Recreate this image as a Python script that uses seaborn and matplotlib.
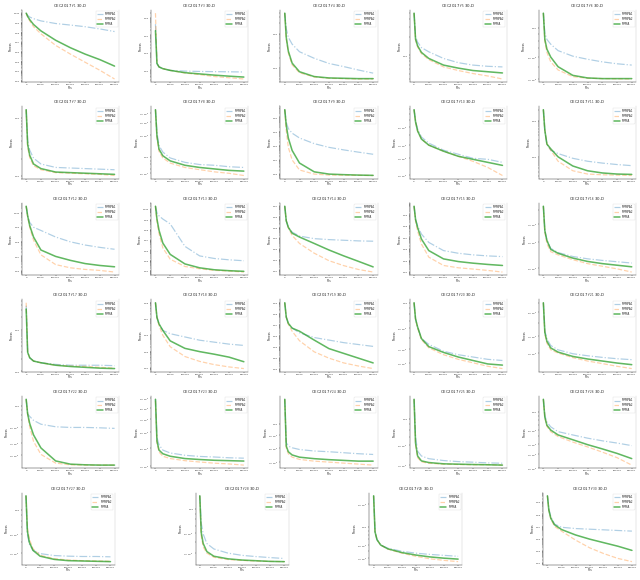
import matplotlib
matplotlib.use("Agg")
import matplotlib.pyplot as plt
import seaborn as sns
import numpy as np
import pandas as pd

# Function evaluations at which the convergence values were read
FES = [0, 5000, 12000, 25000, 50000, 100000, 150000, 200000, 250000, 300000]
SERIES = ["MPMPA1", "MPMPA2", "MPMA"]
FUNC_IDS = [1, 3, 4, 5, 6, 7, 8, 9, 10, 11, 12, 13, 14, 15, 16, 17, 18, 19, 20,
            21, 22, 23, 24, 25, 26, 27, 28, 29, 30]

# log10 of the best fitness error (A = MPMPA1, B = MPMPA2, C = MPMA)
F1_A = [10, 9.77, 9.6, 9.43, 9.2, 8.93, 8.77, 8.6, 8.37, 8.1]
F1_B = [10, 9.6, 9.2, 8.6, 7.87, 6.67, 5.77, 4.93, 4.1, 3.2]
F1_C = [10, 9.67, 9.33, 8.83, 8.17, 7.2, 6.43, 5.77, 5.2, 4.53]
F3_A = [4.64, 2.4, 2.2, 2.1, 2.0, 1.96, 1.94, 1.93, 1.92, 1.91]
F3_B = [5.27, 2.4, 2.2, 2.1, 2.0, 1.85, 1.76, 1.65, 1.58, 1.51]
F3_C = [4.27, 2.4, 2.2, 2.1, 2.0, 1.87, 1.8, 1.73, 1.67, 1.62]
F4_A = [3.6, 3.15, 2.9, 2.7, 2.48, 2.29, 2.14, 2.05, 1.95, 1.86]
F4_B = [3.6, 2.85, 2.45, 2.1, 1.87, 1.75, 1.71, 1.7, 1.69, 1.69]
F4_C = [3.6, 2.9, 2.5, 2.15, 1.9, 1.76, 1.72, 1.71, 1.7, 1.7]
F5_A = [2.7, 2.31, 2.22, 2.13, 2.06, 1.95, 1.88, 1.84, 1.82, 1.81]
F5_B = [2.7, 2.26, 2.14, 2.03, 1.93, 1.81, 1.75, 1.70, 1.66, 1.61]
F5_C = [2.7, 2.27, 2.16, 2.05, 1.95, 1.84, 1.79, 1.75, 1.73, 1.71]
F6_A = [1.117, 0.963, 0.913, 0.876, 0.826, 0.783, 0.759, 0.739, 0.724, 0.714]
F6_B = [1.117, 0.9, 0.813, 0.739, 0.676, 0.624, 0.612, 0.609, 0.607, 0.606]
F6_C = [1.117, 0.913, 0.838, 0.776, 0.701, 0.634, 0.614, 0.609, 0.609, 0.609]
F7_A = [3.15, 2.61, 2.45, 2.31, 2.21, 2.15, 2.14, 2.13, 2.12, 2.11]
F7_B = [3.15, 2.5, 2.32, 2.18, 2.11, 2.06, 2.05, 2.04, 2.03, 2.01]
F7_C = [3.15, 2.55, 2.36, 2.21, 2.13, 2.07, 2.06, 2.05, 2.04, 2.03]
F8_A = [2.65, 2.34, 2.16, 2.07, 1.99, 1.93, 1.90, 1.89, 1.87, 1.86]
F8_B = [2.65, 2.27, 2.08, 1.99, 1.92, 1.86, 1.83, 1.80, 1.78, 1.75]
F8_C = [2.65, 2.29, 2.11, 2.02, 1.95, 1.89, 1.86, 1.84, 1.82, 1.81]
F9_A = [4.55, 3.67, 3.22, 2.89, 2.55, 2.15, 1.89, 1.71, 1.55, 1.4]
F9_B = [4.55, 3.1, 1.89, 1.0, 0.29, 0.0, -0.07, -0.08, -0.09, -0.1]
F9_C = [4.55, 3.44, 2.55, 1.67, 0.78, 0.16, 0.0, -0.04, -0.07, -0.09]
F10_A = [3.95, 3.84, 3.76, 3.68, 3.62, 3.55, 3.51, 3.47, 3.46, 3.43]
F10_B = [3.95, 3.83, 3.74, 3.66, 3.60, 3.54, 3.49, 3.44, 3.38, 3.30]
F10_C = [3.95, 3.83, 3.74, 3.66, 3.60, 3.54, 3.49, 3.46, 3.43, 3.40]
F11_A = [3.3, 2.70, 2.36, 2.19, 2.10, 1.97, 1.89, 1.84, 1.80, 1.77]
F11_B = [3.3, 2.74, 2.36, 2.19, 1.89, 1.63, 1.54, 1.52, 1.51, 1.50]
F11_C = [3.3, 2.74, 2.36, 2.23, 2.01, 1.76, 1.63, 1.57, 1.54, 1.53]
F12_A = [10.44, 9.78, 9.33, 9.0, 8.78, 8.33, 8.0, 7.78, 7.62, 7.49]
F12_B = [10.44, 9.71, 9.0, 8.11, 7.11, 6.44, 6.22, 6.11, 6.04, 5.93]
F12_C = [10.44, 9.78, 9.11, 8.33, 7.44, 7.0, 6.73, 6.51, 6.38, 6.29]
F13_A = [10.3, 9.68, 9.36, 9.05, 8.58, 6.39, 5.46, 5.21, 5.08, 4.99]
F13_B = [10.3, 8.89, 7.64, 6.24, 5.14, 4.43, 4.21, 4.05, 3.99, 3.89]
F13_C = [10.3, 9.05, 7.96, 6.71, 5.61, 4.68, 4.3, 4.11, 4.02, 3.96]
F14_A = [7.0, 5.64, 5.03, 4.58, 4.21, 3.97, 3.88, 3.82, 3.76, 3.73]
F14_B = [7.0, 5.64, 4.97, 4.27, 3.52, 2.61, 1.91, 1.45, 1.09, 0.85]
F14_C = [7.0, 5.64, 5.03, 4.48, 4.12, 3.52, 2.91, 2.36, 1.85, 1.33]
F15_A = [9.71, 8.57, 8.0, 7.29, 6.57, 5.86, 5.63, 5.49, 5.4, 5.34]
F15_B = [9.71, 8.43, 7.57, 6.43, 5.29, 4.57, 4.37, 4.26, 4.14, 4.0]
F15_C = [9.71, 8.57, 7.86, 6.86, 5.86, 5.14, 4.91, 4.77, 4.66, 4.57]
F16_A = [3.725, 3.557, 3.49, 3.435, 3.406, 3.379, 3.363, 3.352, 3.343, 3.334]
F16_B = [3.725, 3.546, 3.468, 3.412, 3.39, 3.357, 3.33, 3.312, 3.294, 3.272]
F16_C = [3.725, 3.557, 3.49, 3.428, 3.401, 3.368, 3.345, 3.33, 3.319, 3.308]
F17_A = [4.58, 3.46, 3.33, 3.25, 3.21, 3.17, 3.15, 3.15, 3.15, 3.14]
F17_B = [4.65, 3.46, 3.33, 3.25, 3.21, 3.15, 3.13, 3.12, 3.10, 3.08]
F17_C = [4.5, 3.46, 3.33, 3.25, 3.21, 3.15, 3.12, 3.10, 3.08, 3.07]
F18_A = [8.0, 7.1, 6.7, 6.3, 6.1, 5.9, 5.7, 5.58, 5.46, 5.38]
F18_B = [8.0, 7.1, 6.6, 6.0, 5.3, 4.7, 4.4, 4.2, 4.06, 3.96]
F18_C = [8.0, 7.1, 6.7, 6.3, 5.66, 5.2, 5.0, 4.84, 4.66, 4.38]
F19_A = [9.0, 7.71, 7.14, 6.71, 6.29, 5.86, 5.63, 5.4, 5.23, 5.06]
F19_B = [9.0, 7.71, 7.06, 6.43, 5.57, 4.57, 4.0, 3.57, 3.29, 3.06]
F19_C = [9.0, 7.71, 7.14, 6.71, 6.43, 5.63, 4.86, 4.43, 4.0, 3.57]
F20_A = [3.0, 2.86, 2.79, 2.69, 2.64, 2.58, 2.55, 2.53, 2.51, 2.5]
F20_B = [3.0, 2.86, 2.78, 2.68, 2.61, 2.55, 2.51, 2.48, 2.45, 2.43]
F20_C = [3.0, 2.86, 2.79, 2.69, 2.62, 2.57, 2.53, 2.5, 2.47, 2.46]
F21_A = [2.85, 2.643, 2.582, 2.533, 2.501, 2.472, 2.457, 2.445, 2.435, 2.428]
F21_B = [2.85, 2.618, 2.55, 2.501, 2.477, 2.443, 2.418, 2.399, 2.379, 2.362]
F21_C = [2.85, 2.63, 2.564, 2.515, 2.484, 2.452, 2.433, 2.418, 2.403, 2.391]
F22_A = [4.068, 3.914, 3.887, 3.846, 3.805, 3.778, 3.771, 3.771, 3.767, 3.761]
F22_B = [4.068, 3.908, 3.778, 3.624, 3.487, 3.395, 3.377, 3.374, 3.374, 3.374]
F22_C = [4.068, 3.914, 3.812, 3.692, 3.555, 3.418, 3.384, 3.377, 3.374, 3.374]
F23_A = [2.95, 2.752, 2.714, 2.686, 2.671, 2.659, 2.653, 2.65, 2.646, 2.644]
F23_B = [2.941, 2.723, 2.676, 2.654, 2.642, 2.631, 2.624, 2.618, 2.614, 2.608]
F23_C = [2.95, 2.733, 2.686, 2.667, 2.654, 2.642, 2.637, 2.633, 2.631, 2.629]
F24_A = [3.1, 2.925, 2.911, 2.904, 2.897, 2.891, 2.888, 2.884, 2.88, 2.877]
F24_B = [3.1, 2.904, 2.88, 2.866, 2.857, 2.85, 2.846, 2.842, 2.838, 2.834]
F24_C = [3.1, 2.911, 2.888, 2.875, 2.866, 2.86, 2.856, 2.853, 2.85, 2.85]
F25_A = [3.167, 2.847, 2.722, 2.681, 2.658, 2.642, 2.633, 2.628, 2.622, 2.619]
F25_B = [3.167, 2.778, 2.667, 2.631, 2.619, 2.611, 2.608, 2.606, 2.606, 2.603]
F25_C = [3.167, 2.792, 2.681, 2.639, 2.625, 2.614, 2.611, 2.608, 2.606, 2.603]
F26_A = [4.162, 3.96, 3.879, 3.818, 3.758, 3.717, 3.677, 3.644, 3.616, 3.584]
F26_B = [4.162, 3.939, 3.826, 3.758, 3.697, 3.628, 3.568, 3.503, 3.434, 3.341]
F26_C = [4.162, 3.939, 3.838, 3.778, 3.717, 3.657, 3.596, 3.543, 3.487, 3.422]
F27_A = [3.134, 2.774, 2.684, 2.624, 2.594, 2.576, 2.57, 2.567, 2.567, 2.564]
F27_B = [3.134, 2.834, 2.729, 2.639, 2.579, 2.546, 2.534, 2.528, 2.525, 2.522]
F27_C = [3.134, 2.804, 2.699, 2.624, 2.57, 2.54, 2.528, 2.525, 2.522, 2.519]
F28_A = [4.114, 3.872, 3.773, 3.688, 3.639, 3.602, 3.582, 3.571, 3.562, 3.554]
F28_B = [4.114, 3.759, 3.659, 3.602, 3.565, 3.545, 3.537, 3.531, 3.528, 3.526]
F28_C = [4.114, 3.787, 3.688, 3.616, 3.574, 3.551, 3.54, 3.534, 3.528, 3.526]
F29_A = [3.401, 2.941, 2.841, 2.773, 2.733, 2.693, 2.669, 2.653, 2.641, 2.629]
F29_B = [3.401, 2.941, 2.841, 2.773, 2.721, 2.669, 2.629, 2.597, 2.577, 2.561]
F29_C = [3.401, 2.941, 2.841, 2.773, 2.725, 2.677, 2.645, 2.621, 2.605, 2.593]
F30_A = [9.526, 8.474, 7.816, 7.211, 6.947, 6.842, 6.789, 6.737, 6.684, 6.632]
F30_B = [9.526, 8.342, 7.632, 7.026, 6.632, 5.895, 5.263, 4.789, 4.395, 4.132]
F30_C = [9.526, 8.342, 7.684, 7.158, 6.763, 6.316, 5.974, 5.684, 5.395, 5.053]

COLORS = ["tab:blue", "tab:orange", "tab:green"]
STYLES = ["-.", "--", "-"]
ALPHAS = [0.35, 0.35, 0.75]
WIDTHS = [3.5, 3.5, 4.5]

sns.set_theme(style="ticks")
plt.rcParams["font.family"] = ["DejaVu Sans"]

fig = plt.figure(figsize=(25.6, 23.2), dpi=25)
common = dict(left=0.034, right=0.994, top=0.983, bottom=0.026, hspace=0.333)
gs5 = fig.add_gridspec(6, 5, wspace=0.33, **common)
gs4 = fig.add_gridspec(6, 4, wspace=0.87, **common)

axes = [fig.add_subplot(gs5[i // 5, i % 5]) for i in range(25)]
axes += [fig.add_subplot(gs4[5, j]) for j in range(4)]

g = globals()
for ax, fid in zip(axes, FUNC_IDS):
    for k, suffix in enumerate(["A", "B", "C"]):
        vals = np.power(10.0, np.array(g[f"F{fid}_{suffix}"]))
        df = pd.DataFrame({"FEs": FES, "Fitness": vals})
        sns.lineplot(data=df, x="FEs", y="Fitness", ax=ax, color=COLORS[k],
                     linestyle=STYLES[k], alpha=ALPHAS[k], linewidth=WIDTHS[k],
                     label=SERIES[k])
    ax.set_yscale("log")
    ax.set_xticks([0, 50000, 100000, 150000, 200000, 250000, 300000])
    ax.set_title(f"CEC2017 $f_{{{fid}}}$ 30-D", fontsize=11, pad=4)
    ax.set_xlabel("FEs", fontsize=8, labelpad=1)
    ax.set_ylabel("Fitness", fontsize=8, labelpad=1)
    ax.tick_params(axis="both", which="both", labelsize=7, pad=1.5)
    ax.tick_params(axis="both", which="major", length=4)
    ax.spines["top"].set_visible(False)
    ax.spines["right"].set_color("#cccccc")
    ax.legend(loc="upper right", fontsize=8, frameon=True, handlelength=2.2,
              borderpad=0.4, labelspacing=0.3)

fig.savefig("out.png", dpi=25)
